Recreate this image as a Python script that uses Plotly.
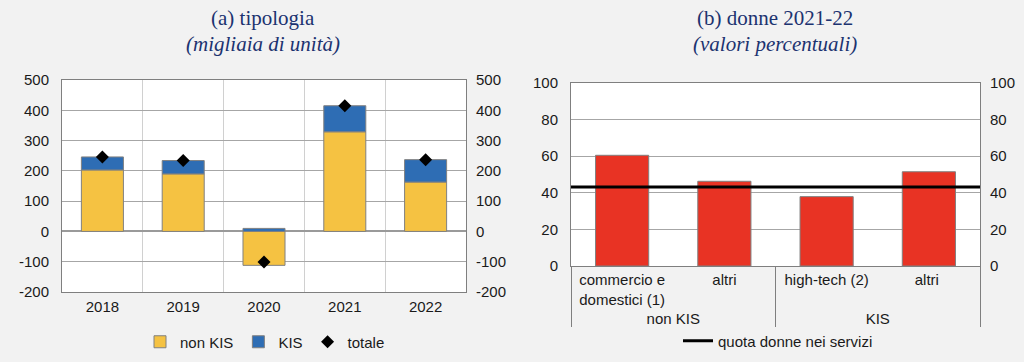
import plotly.graph_objects as go

# ---- data ----
years = ["2018", "2019", "2020", "2021", "2022"]
non_kis = [203, 190, -112, 329, 163]
kis = [43, 44, 10, 86, 74]
totale = [246, 234, -101, 415, 237]
ticks_a = [-200, -100, 0, 100, 200, 300, 400, 500]
ticks_a_text = ["-200", "-100", "0", "100", "200", "300", "400", "500"]

groups = ["non KIS", "non KIS", "KIS", "KIS"]
sectors = ["commercio e<br>domestici (1)", "altri", "high-tech (2)", "altri "]
donne = [60.5, 46.3, 37.9, 51.5]
quota_servizi = 43.2

BG = "#f2f2f2"
NAVY = "#1c3370"
GRID = "#a6a6a6"
VGRID = "#d0d0d0"
BORDER = "#7f7f7f"
FONT = "Liberation Sans"
TXT = "#1a1a1a"

fig = go.Figure()

# ---- panel (a) ----
fig.add_trace(go.Bar(x=years, y=non_kis, name="non KIS", marker=dict(color="#f5c242", line=dict(color="#808080", width=1)),
                     width=0.52, xaxis="x", yaxis="y", legend="legend"))
fig.add_trace(go.Bar(x=years, y=kis, name="KIS", marker=dict(color="#2e6db4", line=dict(color="#808080", width=1)),
                     width=0.52, xaxis="x", yaxis="y", legend="legend"))
fig.add_trace(go.Scatter(x=years, y=totale, name="totale", mode="markers",
                         marker=dict(symbol="diamond", color="black", size=10), xaxis="x", yaxis="y", legend="legend"))
# invisible helper for right-hand axis ticks
fig.add_trace(go.Scatter(x=years, y=totale, mode="markers", marker=dict(opacity=0), showlegend=False,
                         hoverinfo="skip", xaxis="x", yaxis="y3"))

# ---- panel (b) ----
fig.add_trace(go.Bar(x=[groups, sectors], y=donne, name="donne", marker=dict(color="#e83324", line=dict(color="#808080", width=1)),
                     width=0.52, xaxis="x2", yaxis="y2", showlegend=False))
fig.add_trace(go.Scatter(x=[0, 1], y=[quota_servizi, quota_servizi], mode="lines", name="quota donne nei servizi",
                         line=dict(color="black", width=3), xaxis="x3", yaxis="y2", legend="legend2"))
fig.add_trace(go.Scatter(x=[0, 1], y=[quota_servizi, quota_servizi], mode="markers", marker=dict(opacity=0),
                         showlegend=False, hoverinfo="skip", xaxis="x3", yaxis="y4"))

tickf = dict(family=FONT, size=15, color=TXT)
SO = 9

fig.update_layout(
    width=1024, height=362,
    margin=dict(l=0, r=0, t=0, b=0),
    paper_bgcolor=BG, plot_bgcolor="white",
    barmode="relative",
    font=dict(family=FONT, size=15, color=TXT),
    xaxis=dict(domain=[62/1024, 466/1024], anchor="y", type="category", tickson="boundaries",
               showgrid=True, gridcolor=VGRID, gridwidth=1, ticks="", tickfont=tickf, ticklabelstandoff=1,
               showline=True, mirror=True, linecolor=BORDER, linewidth=1, automargin=False),
    yaxis=dict(domain=[1-292/362, 1-80/362], anchor="x", range=[-200, 500],
               tickmode="array", tickvals=ticks_a, ticktext=ticks_a_text,
               showgrid=True, gridcolor=GRID, gridwidth=1, zeroline=True, zerolinecolor="#9a9a9a", zerolinewidth=2,
               tickfont=tickf, ticks="", ticklabelstandoff=SO,
               showline=True, mirror=True, linecolor=BORDER, linewidth=1, automargin=False),
    yaxis3=dict(overlaying="y", anchor="x", side="right", range=[-200, 500],
                tickmode="array", tickvals=ticks_a, ticktext=ticks_a_text, showgrid=False,
                zeroline=False, tickfont=tickf, ticks="", ticklabelstandoff=SO, automargin=False),
    xaxis2=dict(domain=[571/1024, 980/1024], anchor="y2", type="multicategory", showgrid=False, ticks="",
                tickfont=tickf, showdividers=True, dividercolor=BORDER, dividerwidth=1,
                showline=True, mirror=True, linecolor=BORDER, linewidth=1, automargin=False),
    xaxis3=dict(overlaying="x2", anchor="y2", range=[0, 1], visible=False),
    yaxis2=dict(domain=[1-266/362, 1-83/362], anchor="x2", range=[0, 100], dtick=20,
                showgrid=True, gridcolor=GRID, gridwidth=1, zeroline=False,
                tickfont=tickf, ticks="", ticklabelstandoff=SO,
                showline=True, mirror=True, linecolor=BORDER, linewidth=1, automargin=False),
    yaxis4=dict(overlaying="y2", anchor="x2", side="right", range=[0, 100], dtick=20, showgrid=False,
                zeroline=False, tickfont=tickf, ticks="", ticklabelstandoff=SO, automargin=False),
    legend=dict(orientation="h", x=265/1024, xanchor="center", y=1-342/362, yanchor="middle",
                bgcolor="rgba(0,0,0,0)", font=dict(family=FONT, size=15, color=TXT), itemwidth=30),
    legend2=dict(orientation="h", x=778/1024, xanchor="center", y=1-341/362, yanchor="middle",
                 bgcolor="rgba(0,0,0,0)", font=dict(family=FONT, size=15, color=TXT)),
    showlegend=True,
)

annots = [
    ("(a) tipologia", 263, 18),
    ("<i>(migliaia di unità)</i>", 263, 44),
    ("(b) donne 2021-22", 775, 18),
    ("<i>(valori percentuali)</i>", 775, 44),
]
for text, xc, yc in annots:
    fig.add_annotation(text=text, x=xc/1024, y=1-yc/362, xref="paper", yref="paper", showarrow=False,
                       xanchor="center", yanchor="middle",
                       font=dict(family="Liberation Serif", size=21, color=NAVY))

fig.write_html("out.html", config={"displayModeBar": False},
               post_script="document.body.style.margin='0';document.body.style.padding='0';"
                           "document.body.style.background='#f2f2f2';document.body.style.overflow='hidden';")
